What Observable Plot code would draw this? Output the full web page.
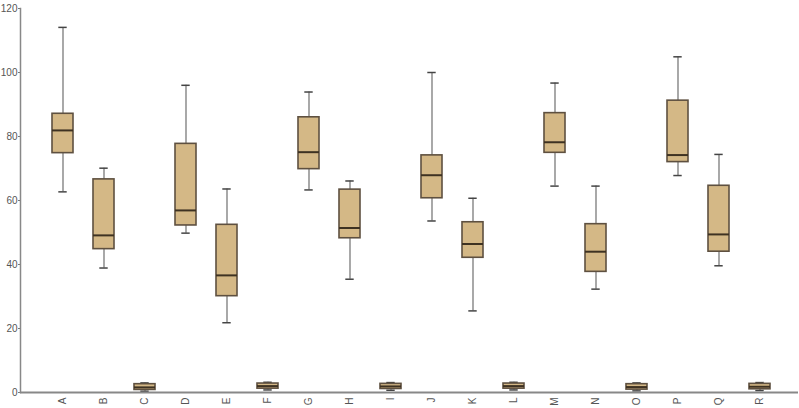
<!DOCTYPE html>
<html>
<head>
<meta charset="utf-8">
<script src="https://cdn.jsdelivr.net/npm/d3@7"></script>
<script src="https://cdn.jsdelivr.net/npm/@observablehq/plot@0.6"></script>
<style>
  html, body { margin: 0; padding: 0; background: #fff; }
  #chart svg { display: block; }
</style>
</head>
<body>
<div id="chart"></div>
<script>
const categories = ["A","B","C","D","E","F","G","H","I","J","K","L","M","N","O","P","Q","R"];
const lowWhisker = [62.7, 38.9, 0.4, 49.8, 21.8, 0.8, 63.3, 35.4, 0.7, 53.6, 25.5, 0.8, 64.5, 32.3, 0.5, 67.8, 39.6, 0.6];
const q1Values   = [74.8, 44.8, 0.8, 52.2, 30.1, 1.2, 69.8, 48.2, 1.1, 60.7, 42.1, 1.2, 74.9, 37.7, 0.9, 72.0, 44.0, 1.0];
const medians    = [81.9, 49.1, 1.6, 56.9, 36.6, 2.0, 75.1, 51.4, 1.9, 67.9, 46.4, 2.0, 78.2, 44.0, 1.7, 74.2, 49.4, 1.8];
const q3Values   = [87.1, 66.6, 2.6, 77.7, 52.4, 2.8, 86.0, 63.4, 2.7, 74.1, 53.2, 2.8, 87.3, 52.6, 2.6, 91.2, 64.6, 2.7];
const highWhisker= [114.1, 70.1, 3.0, 96.0, 63.6, 3.2, 93.9, 66.1, 3.1, 100.0, 60.7, 3.2, 96.7, 64.5, 3.0, 104.9, 74.4, 3.1];
const yTicks = [0, 20, 40, 60, 80, 100, 120];

const rows = categories.map((c, i) => ({
  cat: c, lo: lowWhisker[i], q1: q1Values[i], med: medians[i], q3: q3Values[i], hi: highWhisker[i]
}));

const fill = "#d4b886";
const stroke = "#5e5040";

const chart = Plot.plot({
  width: 799,
  height: 408,
  marginLeft: 20,
  marginRight: 1,
  marginTop: 8,
  marginBottom: 16,
  style: { fontFamily: "Liberation Sans, Arial, sans-serif", fontSize: "10px", color: "#555", background: "#fff" },
  x: { type: "band", domain: categories, range: [49, 772], paddingInner: 0.5, paddingOuter: 0 },
  y: { domain: [0, 120] },
  marks: [
    Plot.ruleX(rows, { x: "cat", y1: "lo", y2: "q1", stroke: "#7a7a7a", strokeWidth: 1.3 }),
    Plot.ruleX(rows, { x: "cat", y1: "q3", y2: "hi", stroke: "#7a7a7a", strokeWidth: 1.3 }),
    Plot.tickY(rows, { x: "cat", y: "lo", stroke: "#444", strokeWidth: 1.5, insetLeft: 6.3, insetRight: 6.3 }),
    Plot.tickY(rows, { x: "cat", y: "hi", stroke: "#444", strokeWidth: 1.5, insetLeft: 6.3, insetRight: 6.3 }),
    Plot.barY(rows, { x: "cat", y1: "q1", y2: "q3", fill: fill, stroke: stroke, strokeWidth: 1.6 }),
    Plot.tickY(rows, { x: "cat", y: "med", stroke: "#3e3222", strokeWidth: 2 }),
    Plot.axisY({ ticks: yTicks, tickSize: 2, tickPadding: 1, label: null, stroke: "#777", fill: "#555", fontSize: 10 }),
    Plot.axisX({ tickSize: 0, tickPadding: 5, tickRotate: -90, label: null, fill: "#555", fontSize: 10 }),
    Plot.frame({ anchor: "left", stroke: "#888", strokeWidth: 1.5 }),
    Plot.ruleY([0], { stroke: "#888", strokeWidth: 2 })
  ]
});
document.getElementById("chart").appendChild(chart);
</script>
</body>
</html>
